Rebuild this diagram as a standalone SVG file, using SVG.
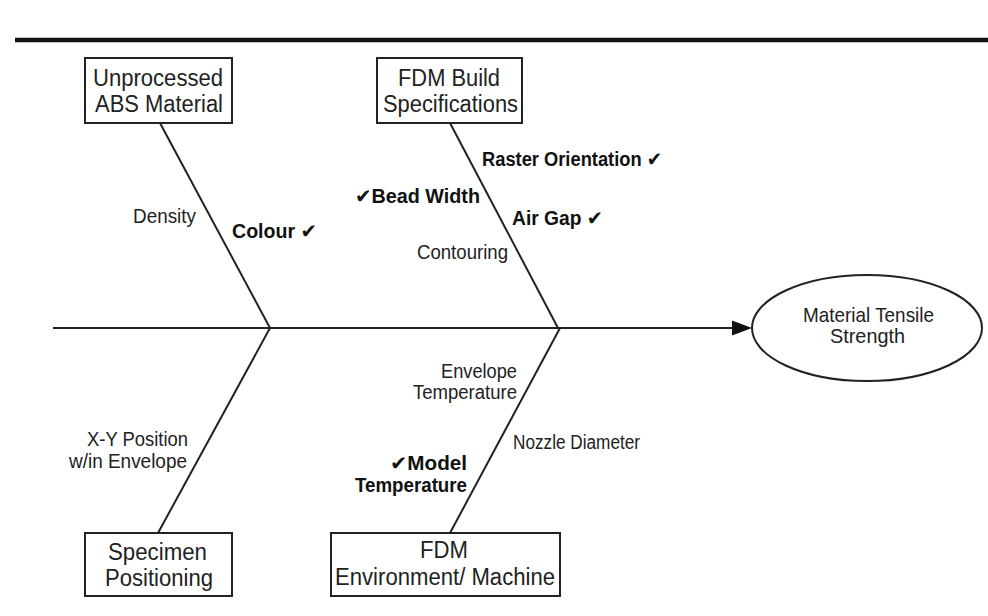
<svg xmlns="http://www.w3.org/2000/svg" width="988" height="616" viewBox="0 0 988 616">
<style>
.bx{fill:#fff;stroke:#222;stroke-width:2}
.ln{stroke:#222;stroke-width:2;fill:none}
.t{font-family:"Liberation Sans","DejaVu Sans",Arial,sans-serif;fill:#222}
.bt{font-size:23px}
.lb{font-size:20px}
.b{font-weight:bold;fill:#111}
</style>
<rect width="988" height="616" fill="#fff"/>
<line x1="15" y1="40" x2="988" y2="40" stroke="#111" stroke-width="4.5"/>
<g id="connectors">
<line class="ln" x1="53" y1="328" x2="734" y2="328" stroke-width="2.5"/>
<polygon points="732,320.5 752,328 732,335.5" fill="#111"/>
<line class="ln" x1="160" y1="123" x2="270" y2="328"/>
<line class="ln" x1="450" y1="123" x2="558" y2="328"/>
<line class="ln" x1="270" y1="328" x2="158" y2="533"/>
<line class="ln" x1="560" y1="328" x2="450" y2="533"/>
</g>
<g id="node-abs">
<rect class="bx" x="85" y="58" width="147" height="65"/>
<text class="t bt" x="93" y="86" textLength="130" lengthAdjust="spacingAndGlyphs">Unprocessed</text>
<text class="t bt" x="95" y="112" textLength="128" lengthAdjust="spacingAndGlyphs">ABS Material</text>
</g>
<g id="node-build">
<rect class="bx" x="377" y="58" width="145" height="65"/>
<text class="t bt" x="398" y="86" textLength="102" lengthAdjust="spacingAndGlyphs">FDM Build</text>
<text class="t bt" x="383" y="112" textLength="135" lengthAdjust="spacingAndGlyphs">Specifications</text>
</g>
<g id="node-specimen">
<rect class="bx" x="85" y="533" width="147" height="63"/>
<text class="t bt" x="108" y="560" textLength="99" lengthAdjust="spacingAndGlyphs">Specimen</text>
<text class="t bt" x="105" y="586" textLength="108" lengthAdjust="spacingAndGlyphs">Positioning</text>
</g>
<g id="node-env">
<rect class="bx" x="331" y="533" width="229" height="63"/>
<text class="t bt" x="420" y="558" textLength="48" lengthAdjust="spacingAndGlyphs">FDM</text>
<text class="t bt" x="335" y="585" textLength="220" lengthAdjust="spacingAndGlyphs">Environment/ Machine</text>
</g>
<g id="node-strength">
<ellipse cx="867" cy="328" rx="115" ry="53" fill="#fff" stroke="#222" stroke-width="2"/>
<text class="t" font-size="21" x="803" y="322" textLength="131" lengthAdjust="spacingAndGlyphs">Material Tensile</text>
<text class="t" font-size="21" x="830" y="343" textLength="75" lengthAdjust="spacingAndGlyphs">Strength</text>
</g>
<g id="labels">
<text class="t lb" x="133" y="223" textLength="63" lengthAdjust="spacingAndGlyphs">Density</text>
<text class="t lb b" x="232" y="238" textLength="85" lengthAdjust="spacingAndGlyphs">Colour ✔</text>
<text class="t lb b" x="482" y="166" textLength="180" lengthAdjust="spacingAndGlyphs">Raster Orientation ✔</text>
<text class="t lb b" x="355" y="203" textLength="125" lengthAdjust="spacingAndGlyphs">✔Bead Width</text>
<text class="t lb b" x="512" y="225" textLength="91" lengthAdjust="spacingAndGlyphs">Air Gap ✔</text>
<text class="t lb" x="417" y="259" textLength="91" lengthAdjust="spacingAndGlyphs">Contouring</text>
<text class="t lb" x="441" y="378" textLength="76" lengthAdjust="spacingAndGlyphs">Envelope</text>
<text class="t lb" x="413" y="399" textLength="104" lengthAdjust="spacingAndGlyphs">Temperature</text>
<text class="t lb" x="513" y="449" textLength="127" lengthAdjust="spacingAndGlyphs">Nozzle Diameter</text>
<text class="t lb b" x="390" y="470" textLength="77" lengthAdjust="spacingAndGlyphs">✔Model</text>
<text class="t lb b" x="355" y="492" textLength="112" lengthAdjust="spacingAndGlyphs">Temperature</text>
<text class="t lb" x="87" y="446" textLength="101" lengthAdjust="spacingAndGlyphs">X-Y Position</text>
<text class="t lb" x="69" y="468" textLength="118" lengthAdjust="spacingAndGlyphs">w/in Envelope</text>
</g>
</svg>
